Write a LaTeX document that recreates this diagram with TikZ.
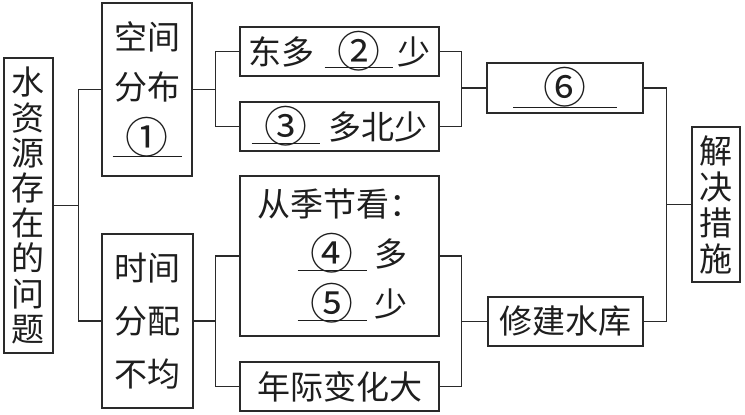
\documentclass[tikz,border=0pt]{standalone}
\usepackage{fontspec}
\usepackage{graphicx}
\setmainfont{Noto Sans CJK SC}
\newcommand\fillblank[3][6pt]{\makebox[#2]{#3}\llap{\rule[-#1]{#2}{0.9pt}}}
\newcommand\cnum[1]{\raisebox{-3.5pt}{\scalebox{1.3}{#1}}}
\definecolor{linec}{HTML}{2A2A2A}
\definecolor{textc}{HTML}{1E1E1E}
\begin{document}
\begin{tikzpicture}[x=1pt,y=-1pt,
  box/.style={draw=linec, line width=1.3pt, inner sep=0pt, align=center, text=textc,
    font=\fontsize{33}{50}\selectfont},
  conn/.style={draw=linec, line width=1.3pt}]
\useasboundingbox (0,0) rectangle (745,415);
\fill[white] (0,0) rectangle (745,415);
% boxes
\node[box, minimum width=49pt, minimum height=295pt, font=\fontsize{33}{35.2}\selectfont] (A) at (28.5,205.5) {水\\资\\源\\存\\在\\的\\问\\题};
\node[box, minimum width=90pt, minimum height=173pt] (B) at (147,89.5) {空间\\分布\\\fillblank[7pt]{69pt}{\cnum{①}}};
\node[box, minimum width=91pt, minimum height=174pt, font=\fontsize{33}{53}\selectfont] (C) at (147.5,321) {时间\\分配\\不均};
\node[box, minimum width=199pt, minimum height=49pt] (D) at (339.5,51.5) {东多\hspace{10pt}\fillblank[4pt]{68pt}{\cnum{②}}\hspace{5pt}少};
\node[box, minimum width=199pt, minimum height=49pt] (E) at (339.5,126.5) {\fillblank[5pt]{68pt}{\cnum{③}}\hspace{9pt}多北少};
\node[box, minimum width=199pt, minimum height=160pt] (I) at (339.5,256) {从季节看：\\\hspace*{26pt}\fillblank[5pt]{69pt}{\cnum{④}}\hspace{8pt}多\\\hspace*{26pt}\fillblank[5pt]{69pt}{\cnum{⑤}}\hspace{8pt}少};
\node[box, minimum width=199pt, minimum height=49pt] (J) at (339.5,386.5) {年际变化大};
\node[box, minimum width=156pt, minimum height=50pt] (F) at (565,88) {\fillblank[8pt]{104pt}{\cnum{⑥}}};
\node[box, minimum width=155pt, minimum height=49pt] (H) at (565.5,321.5) {修建水库};
\node[box, minimum width=48pt, minimum height=155pt, font=\fontsize{33}{36}\selectfont] (G) at (716,204.5) {解\\决\\措\\施};
% junctions
\coordinate (j1) at ([xshift=25pt]A.east);
\coordinate (j2) at ([xshift=23pt]B.east);
\coordinate (j3) at ([xshift=-25pt]F.west);
\coordinate (j4) at ([xshift=22pt]C.east);
\coordinate (j5) at ([xshift=-26pt]H.west);
\coordinate (j6) at ([xshift=-25pt]G.west);
% connectors
\draw[conn] (A.east) -- (j1);
\draw[conn] (B.west) -| (j1) |- (C.west);
\draw[conn] (B.east) -- (j2);
\draw[conn] (D.west) -| (j2) |- (E.west);
\draw[conn] (D.east) -| (j3) |- (E.east);
\draw[conn] (j3) -- (F.west);
\draw[conn] (C.east) -- (j4);
\draw[conn] (I.west) -| (j4) |- (J.west);
\draw[conn] (I.east) -| (j5) |- (J.east);
\draw[conn] (j5) -- (H.west);
\draw[conn] (F.east) -| (j6) |- (H.east);
\draw[conn] (j6) -- (G.west);
\end{tikzpicture}
\end{document}
